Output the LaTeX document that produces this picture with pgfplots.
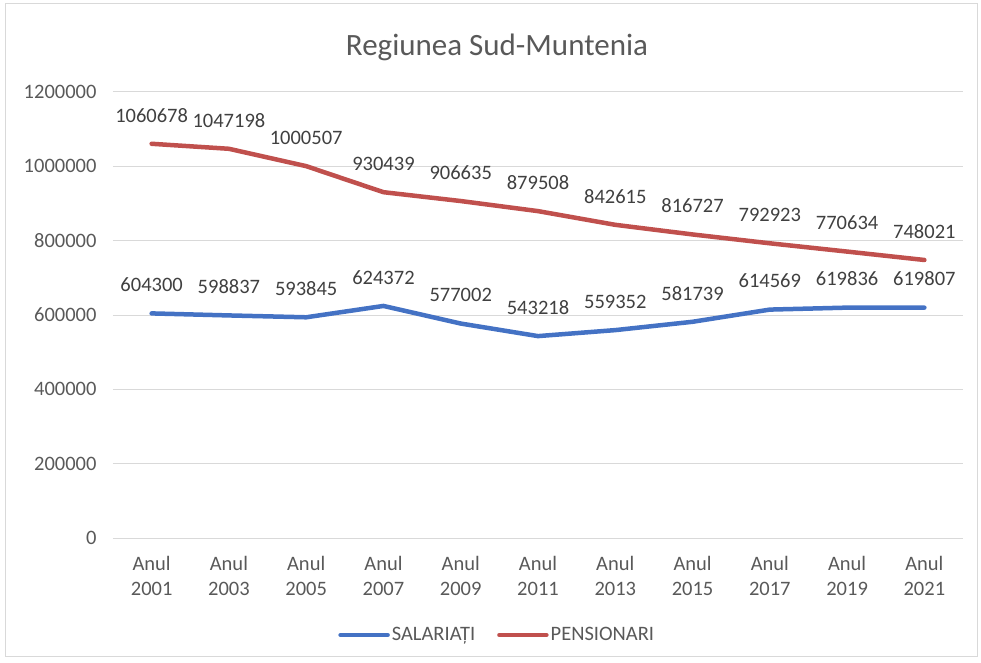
\documentclass[border=0pt]{standalone}
\usepackage{fontspec}
\setmainfont{Carlito}
\usepackage{pgfplots}
\pgfplotsset{compat=1.18}
\definecolor{salblue}{RGB}{68,114,196}
\definecolor{penred}{RGB}{192,80,77}
\definecolor{ticktext}{RGB}{89,89,89}
\definecolor{lbltext}{RGB}{64,64,64}
\definecolor{gridgray}{RGB}{217,217,217}

\begin{document}
\begin{tikzpicture}
\useasboundingbox (-113pt,-124pt) rectangle (868pt,538pt);
\draw[gridgray, line width=1pt] (-107pt,-118pt) rectangle (864pt,534pt);
\begin{axis}[
    scale only axis,
    width=850pt, height=446pt,
    xmin=-0.5, xmax=10.5,
    ymin=0, ymax=1200000,
    xtick={0,...,10},
    xticklabels={Anul\\2001,Anul\\2003,Anul\\2005,Anul\\2007,Anul\\2009,Anul\\2011,Anul\\2013,Anul\\2015,Anul\\2017,Anul\\2019,Anul\\2021},
    x tick label style={align=center, font=\fontsize{20.5}{25}\selectfont, text=ticktext, yshift=-15pt},
    ytick={0,200000,...,1200000},
    scaled y ticks=false,
    y tick label style={/pgf/number format/fixed, /pgf/number format/1000 sep={},
        /pgf/number format/assume math mode=true,
        font=\fontsize{20.5}{24}\selectfont, text=ticktext, xshift=-13pt},
    major tick length=0pt,
    axis line style={draw=none},
    ymajorgrids,
    major grid style={gridgray, line width=1pt},
    point meta=explicit symbolic,
    nodes near coords,
    every node near coord/.append style={font=\fontsize{20.5}{24}\selectfont, text=lbltext, yshift=16pt},
    legend columns=2,
    legend style={draw=none, at={(0.452,-0.2175)}, anchor=center,
        font=\fontsize{20.5}{24}\selectfont, text=ticktext,
        /tikz/every even column/.append style={column sep=20pt}},
    legend image code/.code={\draw[#1, line width=4.5pt] (0pt,0pt) -- (47pt,0pt);},
    clip=false,
]
\addplot[salblue, line width=4.5pt, line cap=round, line join=round] coordinates {
    (0,604300)[604300] (1,598837)[598837] (2,593845)[593845] (3,624372)[624372]
    (4,577002)[577002] (5,543218)[543218] (6,559352)[559352] (7,581739)[581739]
    (8,614569)[614569] (9,619836)[619836] (10,619807)[619807]};
\addlegendentry{SALARIAȚI}
\addplot[penred, line width=4.5pt, line cap=round, line join=round] coordinates {
    (0,1060678)[1060678] (1,1047198)[1047198] (2,1000507)[1000507] (3,930439)[930439]
    (4,906635)[906635] (5,879508)[879508] (6,842615)[842615] (7,816727)[816727]
    (8,792923)[792923] (9,770634)[770634] (10,748021)[748021]};
\addlegendentry{PENSIONARI}
\end{axis}
\node[font=\fontsize{31}{36}\selectfont, text=ticktext] at (384pt,491pt) {Regiunea Sud-Muntenia};
\end{tikzpicture}
\end{document}
